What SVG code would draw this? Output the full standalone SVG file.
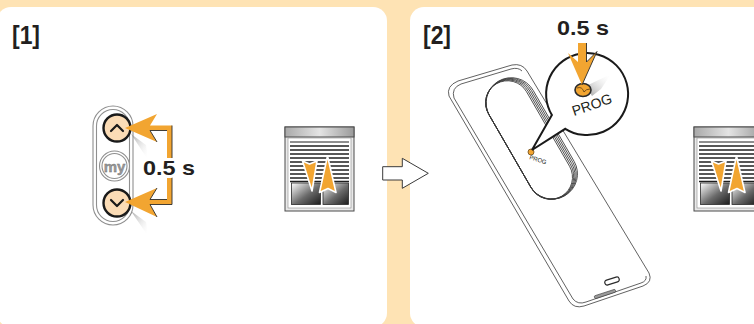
<svg xmlns="http://www.w3.org/2000/svg" width="754" height="324" viewBox="0 0 754 324">
  <style>
    .panel { fill: #ffffff; }
    .step { font-family: "Liberation Sans", Arial, sans-serif; font-weight: bold; font-size: 25px; fill: #231f20; }
    .time { font-family: "Liberation Sans", Arial, sans-serif; font-weight: bold; font-size: 21px; fill: #231f20; }
    .halo { stroke: #ffffff; stroke-width: 6; paint-order: stroke; stroke-linejoin: round; }
    .orange { fill: #f2a531; }
    .edge { fill: none; stroke: #2b2b2b; stroke-width: 0.9; stroke-linejoin: round; }
    .grayline { fill: none; stroke: #8f8f8f; stroke-width: 1.1; }
    .thin { fill: none; stroke: #3a3a3a; stroke-width: 0.8; }
    .btn { fill: #fbdcb6; stroke: #1a1a1a; stroke-width: 2.4; }
    .chev { fill: none; stroke: #1a1a1a; stroke-width: 2.2; stroke-linecap: round; stroke-linejoin: round; }
    .prog { font-family: "Liberation Sans", Arial, sans-serif; fill: #231f20; }
  </style>
  <defs>
    <linearGradient id="housing" x1="0" y1="0" x2="1" y2="0">
      <stop offset="0" stop-color="#a9a9a9"/>
      <stop offset="0.5" stop-color="#e4e4e4"/>
      <stop offset="1" stop-color="#9a9a9a"/>
    </linearGradient>
    <linearGradient id="pane" x1="0" y1="0" x2="1" y2="1">
      <stop offset="0" stop-color="#ffffff"/>
      <stop offset="0.55" stop-color="#6a6a6a"/>
      <stop offset="1" stop-color="#1c1c1c"/>
    </linearGradient>
    <linearGradient id="swoosh" x1="0" y1="0" x2="1" y2="1">
      <stop offset="0" stop-color="#a8a8a8"/>
      <stop offset="1" stop-color="#ffffff" stop-opacity="0"/>
    </linearGradient>
    <linearGradient id="swoosh2" x1="1" y1="0" x2="0" y2="1">
      <stop offset="0" stop-color="#ffffff" stop-opacity="0"/>
      <stop offset="1" stop-color="#9c9c9c"/>
    </linearGradient>
    <!-- roller shutter with up/down arrows, drawn at its own origin -->
    <g id="shutter">
      <rect x="0" y="0" width="69" height="84" fill="#e9e9e9" stroke="#4a4a4a" stroke-width="1"/>
      <rect x="0" y="0" width="69" height="10" fill="url(#housing)" stroke="#4a4a4a" stroke-width="1"/>
      <rect x="3" y="11" width="63" height="70" fill="#ffffff" stroke="#8a8a8a" stroke-width="0.6"/>
      <g stroke="#1f1f1f" stroke-width="1.5">
        <line x1="5" y1="15" x2="64" y2="15" stroke-width="1"/>
        <line x1="5" y1="19" x2="64" y2="19"/>
        <line x1="5" y1="23" x2="64" y2="23"/>
        <line x1="5" y1="27" x2="64" y2="27"/>
        <line x1="5" y1="31" x2="64" y2="31"/>
        <line x1="5" y1="35" x2="64" y2="35"/>
        <line x1="5" y1="39" x2="64" y2="39"/>
        <line x1="5" y1="43" x2="64" y2="43"/>
        <line x1="5" y1="47" x2="64" y2="47"/>
        <line x1="5" y1="51" x2="64" y2="51"/>
        <line x1="5" y1="54.5" x2="64" y2="54.5"/>
      </g>
      <rect x="6.5" y="56" width="29" height="21.5" fill="url(#pane)" stroke="#2a2a2a" stroke-width="0.8"/>
      <rect x="38" y="56" width="25.5" height="21.5" fill="url(#pane)" stroke="#2a2a2a" stroke-width="0.8"/>
      <path class="orange" d="M17.5,34 L24.5,37 L32,34 L27,64 Z" stroke="#ffffff" stroke-width="1.6" stroke-linejoin="round"/>
      <path class="orange" d="M42.5,29 L51,65.5 L43,61.5 L34.5,65.5 Z" stroke="#ffffff" stroke-width="1.6" stroke-linejoin="round"/>
    </g>
  </defs>

  <!-- page background -->
  <rect x="0" y="0" width="754" height="324" fill="#fee3b4"/>

  <!-- step panels -->
  <rect id="panel-1" class="panel" x="-3" y="7" width="390" height="320" rx="14"/>
  <rect id="panel-2" class="panel" x="410" y="7" width="360" height="320" rx="14"/>

  <text class="step" x="12" y="44" textLength="28" lengthAdjust="spacingAndGlyphs">[1]</text>
  <text class="step" x="423" y="44" textLength="28" lengthAdjust="spacingAndGlyphs">[2]</text>

  <!-- step 1: wall remote, press up and down together -->
  <g id="remote-small">
    <polygon points="131,134 146,145 148,160 135,140" fill="url(#swoosh)"/>
    <polygon points="131,211 146,222 148,236 135,217" fill="url(#swoosh)"/>
    <rect x="93" y="106" width="40" height="119" rx="20" fill="#ffffff" class="grayline"/>
    <rect x="96.5" y="109.5" width="33" height="112" rx="16.5" class="grayline"/>
    <circle class="btn" cx="117" cy="128" r="13.5"/>
    <polyline class="chev" points="111,131 117,125 123,131"/>
    <circle cx="114.5" cy="166" r="15" fill="#ffffff" stroke="#8f8f8f" stroke-width="1.1"/>
    <circle cx="114.5" cy="166" r="12.5" fill="none" stroke="#8f8f8f" stroke-width="1.1"/>
    <text x="114.5" y="171.5" text-anchor="middle" font-family="Liberation Sans, Arial, sans-serif" font-size="15" font-weight="bold" fill="#9b9b9b" stroke="#6e6e6e" stroke-width="0.4">my</text>
    <circle class="btn" cx="117" cy="203" r="13.5"/>
    <polyline class="chev" points="111,200 117,206 123,200"/>
  </g>

  <use id="shutter-1" href="#shutter" x="285" y="127"/>
  <use id="shutter-2" href="#shutter" x="694" y="127"/>

  <!-- step 2: handheld remote, back side -->
  <g id="remote-back">
    <path d="M449,96 Q446,86 458,81 L512,65 Q522,63 527,71 L649,273 Q653,282 643,286 L584,306 Q574,309 569,301 Z" fill="#ffffff" class="thin"/>
    <path d="M522,71 Q518,67 511,69 L461,84 Q451,88 454,98 L573,299 Q578,305 586,302 L641,283 Q647,281 646,276" class="thin"/>
    <g transform="translate(529,140) rotate(-30)">
      <rect x="-22" y="-65" width="44" height="130" rx="22" class="thin"/>
      <rect x="-22" y="-65.3" width="45.6" height="130.6" rx="22.8" class="thin" stroke-width="0.55"/>
      <rect x="-22" y="-65.6" width="47.2" height="131.2" rx="23.6" class="thin" stroke-width="0.55"/>
      <rect x="-22" y="-65.9" width="48.8" height="131.8" rx="24.4" class="thin" stroke-width="0.55"/>
      <rect x="-22" y="-66.2" width="50.4" height="132.4" rx="25.2" class="thin" stroke-width="0.55"/>
    </g>
    <g transform="translate(612,281) rotate(-17)">
      <rect x="-7.5" y="-2.5" width="15" height="5" rx="2.5" fill="#ffffff" stroke="#2b2b2b" stroke-width="1.2"/>
    </g>
    <g transform="translate(605,294) rotate(-18)">
      <rect x="-11" y="-1.5" width="22" height="3" rx="1" fill="#9a9a9a" stroke="#3a3a3a" stroke-width="0.6"/>
    </g>
    <circle cx="531" cy="152" r="3" fill="#f2a531" stroke="#6b4a1a" stroke-width="0.8"/>
    <text class="prog" font-size="6" transform="translate(529,159) rotate(18)">PROG</text>
  </g>

  <!-- magnified PROG button -->
  <g id="callout">
    <path d="M551.9,115.1 L532,150 L565.3,128.8 A41,41 0 1 0 551.9,115.1 Z" fill="#ffffff" stroke="#1a1a1a" stroke-width="2"/>
    <polygon points="586,86 611,74 601,89 592,96" fill="url(#swoosh2)"/>
    <ellipse cx="583" cy="90" rx="8" ry="6.5" fill="#f2a531" stroke="#2b2b2b" stroke-width="1.6"/>
    <path d="M577,88 Q582,86 584,92 M584,92 Q586,89 590,89" fill="none" stroke="#5a3a10" stroke-width="0.8"/>
    <text class="prog" font-size="14" transform="translate(574,116) rotate(-19)">PROG</text>
  </g>

  <g id="connectors">
    <!-- bracket arrows pointing at the up and down buttons -->
    <path class="orange" d="M125,128 L157,114 L150,125.5 L172,125.5 L172,204.5 L150,204.5 L157,217 L125,202 L157,188 L150,199.5 L167,199.5 L167,130.5 L150,130.5 L157,142 Z"/>
    <polyline class="edge" points="157,142 150,130.5 167,130.5"/>
    <polyline class="edge" points="172,125.5 172,204.5 150,204.5 157,217"/>
    <polyline class="edge" points="157,188 150,199.5 167,199.5"/>
    <!-- step-to-step arrow -->
    <polygon points="382.7,166.7 402.3,166.7 402.3,158.3 428.3,173.3 402.3,188.3 402.3,180 382.7,180" fill="#ffffff" stroke="#3a3a3a" stroke-width="1"/>
    <!-- arrow pressing the PROG button -->
    <path class="orange" d="M578,43 L586.5,43 L586.5,62 L597,51.5 L582,85 L568,53 L578,62 Z"/>
    <polyline class="edge" points="586.5,43 586.5,62 597,51.5 582,85"/>
  </g>

  <text class="time halo" x="143" y="175" textLength="52" lengthAdjust="spacingAndGlyphs">0.5 s</text>
  <text class="time" x="557" y="35" textLength="52" lengthAdjust="spacingAndGlyphs">0.5 s</text>
</svg>
